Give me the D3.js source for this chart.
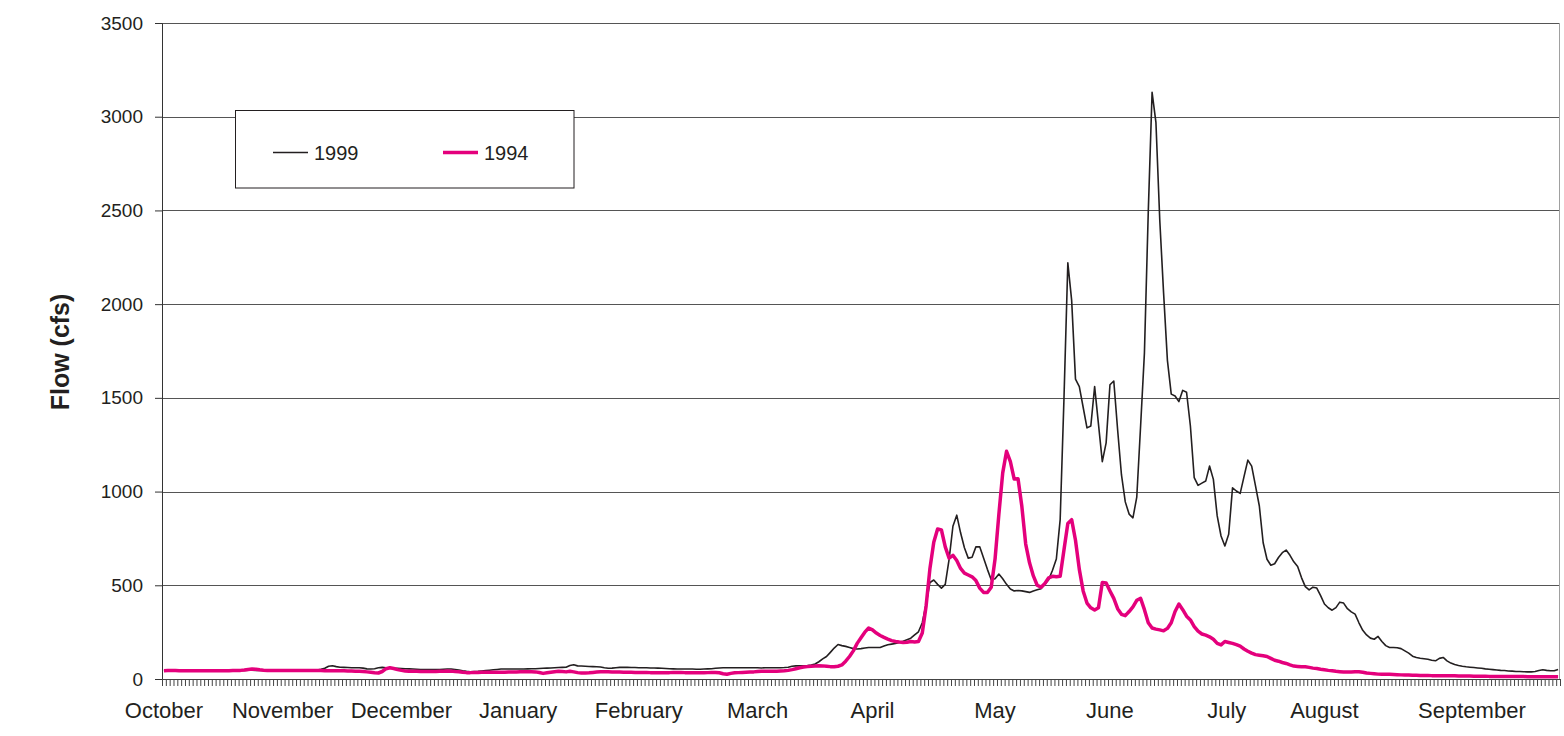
<!DOCTYPE html>
<html>
<head>
<meta charset="utf-8">
<script src="https://cdn.jsdelivr.net/npm/d3@7"></script>
<style>
body { margin: 0; background: #fff; }
text { font-family: "Liberation Sans", Arial, sans-serif; fill: #231f20; }
</style>
</head>
<body>
<script>
// daily flow, water year Oct 1 - Sep 30
var flow1999 = [
  45,45,46,46,45,45,44,44,45,45, 45,45,44,44,45,45,46,46,45,45,
  45,46,47,47,46,45,45,45,46,46, 46,45,45,45,46,46,46,45,45,46,
  48,52,57,68,71,66,63,62,61,60, 60,60,58,54,53,55,60,62,60,58,
  57,57,56,55,54,53,52,51,51,50, 50,50,51,52,53,53,51,48,44,41,
  39,40,41,43,45,47,49,51,53,53, 53,53,53,53,53,54,55,55,56,57,
  58,59,60,61,62,63,72,76,70,69, 68,67,66,65,64,60,57,58,60,62,
  62,62,61,61,60,60,60,59,59,58, 57,56,55,54,53,53,53,53,53,52,
  52,53,54,55,57,59,60,60,60,60, 60,60,60,60,60,60,59,60,60,60,
  60,60,61,63,68,70,70,70,72,75, 80,92,107,120,142,165,184,178,174,168,
  162,160,162,165,168,168,168,168,176,183, 186,189,195,202,210,218,235,252,300,400,
  515,528,505,485,505,638,815,874,780,700, 645,650,705,705,645,585,530,535,560,535,
  505,480,470,472,470,466,462,470,476,482, 505,530,580,640,850,1500,2220,2020,1600,1560,
  1450,1340,1350,1560,1360,1160,1260,1570,1590,1330, 1090,945,880,860,970,1350,1740,2490,3130,2970,
  2450,2060,1700,1520,1510,1480,1540,1530,1350,1074, 1033,1045,1056,1136,1065,870,763,710,772,1020,
  1003,990,1080,1168,1136,1030,923,727,639,607, 615,648,674,688,660,625,600,541,493,475,
  490,485,445,400,380,367,381,410,405,375, 358,346,300,260,235,218,212,227,200,178,
  168,168,167,162,150,138,122,115,111,108, 105,100,97,110,115,97,85,77,72,68,
  65,63,61,59,57,54,52,50,48,46, 45,43,42,40,40,39,38,38,40,45,
  49,46,44,44,51
];

var flow1994 = [
  44,45,45,45,44,44,44,44,44,44, 44,44,44,44,44,44,44,44,45,45,
  46,48,51,53,52,49,47,46,45,45, 45,45,45,45,46,46,46,46,45,45,
  45,45,44,44,44,44,44,44,43,43, 42,41,40,38,36,33,32,40,55,60,
  56,50,46,43,42,41,41,40,40,40, 40,40,41,42,43,42,40,39,36,34,
  34,35,35,36,36,36,36,36,36,36, 37,38,38,39,39,39,39,38,35,30,
  33,36,39,41,40,38,41,38,34,32, 32,33,35,37,39,39,39,38,37,37,
  36,36,36,35,35,35,35,34,34,34, 34,34,34,35,35,35,34,34,34,33,
  33,33,34,35,35,33,28,25,30,33, 34,35,36,37,38,40,41,41,42,42,
  42,43,44,46,50,55,60,64,66,68, 69,71,70,68,66,65,68,75,95,120,
  150,190,220,250,272,262,245,232,222,213, 205,200,197,195,196,200,198,200,245,390,
  590,730,800,795,705,645,660,632,590,565, 555,545,525,485,462,462,490,640,880,1100,
  1215,1160,1067,1069,920,720,620,550,500,490, 510,540,548,545,548,690,830,850,740,585,
  470,405,380,368,380,515,512,470,430,375, 345,338,360,385,420,430,370,300,272,266,
  262,257,270,300,360,400,370,335,315,280, 255,240,234,225,212,190,182,200,195,190,
  183,175,160,148,138,130,127,124,120,110, 100,95,88,83,75,69,67,65,65,62,
  58,56,52,49,46,44,41,39,37,37, 38,39,39,36,32,30,28,26,25,25,
  25,24,23,22,21,21,20,20,19,19, 19,18,18,18,18,17,17,17,16,16,
  16,16,15,15,15,15,14,14,14,14, 14,13,13,13,13,13,12,12,12,12,
  12,12,12,12,12
];

var months = ["October", "November", "December", "January", "February", "March",
  "April", "May", "June", "July", "August", "September"];
// day of water year under each month label
var monthDays = [0, 31, 62, 92.5, 124, 155, 185, 217, 247, 277.5, 303, 341.5];
var yTicks = [0, 500, 1000, 1500, 2000, 2500, 3000, 3500];

var svg = d3.select("body").append("svg")
  .attr("width", 1564)
  .attr("height", 736);

var x = d3.scaleLinear().domain([0, 365]).range([162, 1560]);
var y = d3.scaleLinear().domain([0, 3500]).range([679, 23]);

// gridlines
svg.append("g")
  .selectAll("line")
  .data(yTicks.slice(1))
  .enter().append("line")
  .attr("x1", 162)
  .attr("x2", 1560)
  .attr("y1", function(d) { return Math.round(y(d)) + 0.5; })
  .attr("y2", function(d) { return Math.round(y(d)) + 0.5; })
  .style("stroke", "#555")
  .style("stroke-width", 1);

// right edge of plot area
svg.append("line")
  .attr("x1", 1559.5).attr("x2", 1559.5)
  .attr("y1", 23).attr("y2", 679)
  .style("stroke", "#a0a0a0");

var yAxis = d3.axisLeft(y)
  .tickValues(yTicks)
  .tickSize(7)
  .tickPadding(12)
  .tickFormat(d3.format("d"));

var gy = svg.append("g")
  .attr("transform", "translate(162,0)")
  .call(yAxis);
gy.selectAll("text").style("font-size", "19px").style("fill", "#231f20")
  .style("font-family", "'Liberation Sans', Arial, sans-serif");
gy.selectAll("line, path").style("stroke", "#333");

var xAxis = d3.axisBottom(x)
  .tickValues(d3.range(366))
  .tickSize(7)
  .tickFormat("");

var gx = svg.append("g")
  .attr("transform", "translate(0,679)")
  .call(xAxis);
gx.selectAll("line, path").style("stroke", "#444");
gx.select("path").attr("d", "M162,0.5H1560");

svg.append("g")
  .selectAll("text")
  .data(months)
  .enter().append("text")
  .attr("x", function(d, i) { return x(monthDays[i] + 0.5); })
  .attr("y", 718)
  .attr("text-anchor", "middle")
  .style("font-size", "22px")
  .text(function(d) { return d; });

var line = d3.line()
  .x(function(d, i) { return x(i + 0.5); })
  .y(function(d) { return y(d); });

svg.append("path")
  .datum(flow1999)
  .attr("d", line)
  .style("fill", "none")
  .style("stroke", "#231f20")
  .style("stroke-width", 1.6)
  .style("stroke-linejoin", "round");

svg.append("path")
  .datum(flow1994)
  .attr("d", line)
  .style("fill", "none")
  .style("stroke", "#e4007c")
  .style("stroke-width", 3.5)
  .style("stroke-linejoin", "round");

// legend
var legend = svg.append("g");
legend.append("rect")
  .attr("x", 235.5)
  .attr("y", 110.5)
  .attr("width", 338.5)
  .attr("height", 77.5)
  .style("fill", "#fff")
  .style("stroke", "#231f20")
  .style("stroke-width", 1);

var legendItems = [
  { name: "1999", color: "#231f20", width: 1.6, x: 273 },
  { name: "1994", color: "#e4007c", width: 3.5, x: 443 }
];

legendItems.forEach(function(d) {
  legend.append("line")
    .attr("x1", d.x).attr("x2", d.x + 35)
    .attr("y1", 152.5).attr("y2", 152.5)
    .style("stroke", d.color)
    .style("stroke-width", d.width);
  legend.append("text")
    .attr("x", d.x + 41)
    .attr("y", 152.5)
    .attr("dy", "0.35em")
    .style("font-size", "20px")
    .text(d.name);
});

svg.append("text")
  .attr("transform", "translate(60,352) rotate(-90)")
  .attr("text-anchor", "middle")
  .attr("dy", "0.35em")
  .style("font-size", "25px")
  .style("font-weight", "bold")
  .text("Flow (cfs)");
</script>
</body>
</html>
